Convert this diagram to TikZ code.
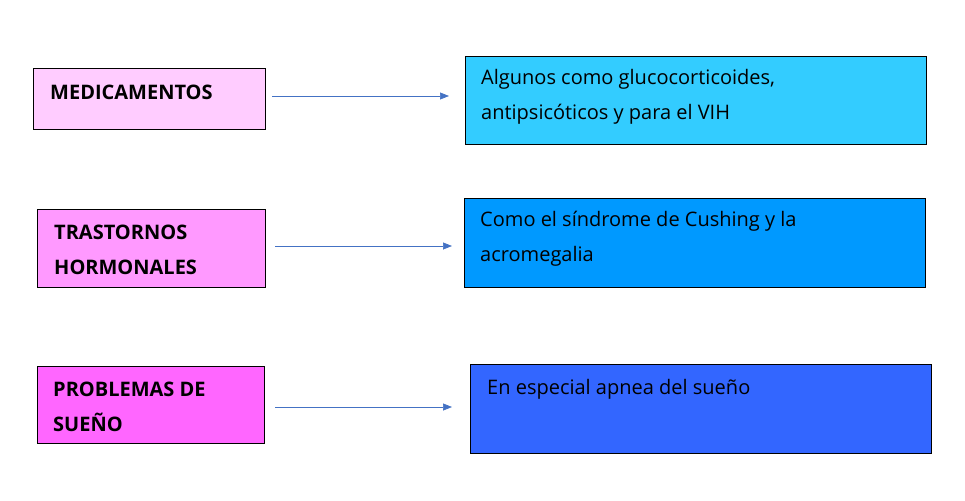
\documentclass[tikz,border=0pt]{standalone}
\usepackage{fontspec}
\setmainfont{Open Sans}
\usetikzlibrary{arrows.meta}
\definecolor{pk1}{HTML}{FFCCFF}
\definecolor{pk2}{HTML}{FF99FF}
\definecolor{pk3}{HTML}{FF66FF}
\definecolor{bl1}{HTML}{33CCFF}
\definecolor{bl2}{HTML}{0099FF}
\definecolor{bl3}{HTML}{3366FF}
\definecolor{arr}{HTML}{4472C4}
\tikzset{
  box/.style={draw=black, line width=0.6pt},
  lt/.style={anchor=west, font=\fontsize{20}{35}\selectfont\bfseries, align=left, inner sep=0pt},
  rt/.style={anchor=west, font=\fontsize{20}{35}\selectfont, align=left, inner sep=0pt},
  conn/.style={draw=arr, line width=0.7pt, -{Triangle[length=9pt,width=7pt]}}
}
\begin{document}
\begin{tikzpicture}[x=1pt,y=-1pt]
\useasboundingbox (0,0) rectangle (965,500);
\fill[white] (0,0) rectangle (965,500);
\draw[box, fill=pk1] (33,68) rectangle (265,129);
\draw[box, fill=pk2] (37,209) rectangle (265,287);
\draw[box, fill=pk3] (37,366) rectangle (264,443);
\draw[box, fill=bl1] (465,56) rectangle (926,144);
\draw[box, fill=bl2] (464,198) rectangle (925,287);
\draw[box, fill=bl3] (470,364) rectangle (931,453);
\node[lt] (l1) at (50,92) {MEDICAMENTOS};
\node[lt] (l2) at (54,250) {TRASTORNOS\\HORMONALES};
\node[lt] (l3) at (53,407) {PROBLEMAS DE\\SUEÑO};
\node[rt] (r1) at (481,97) {Algunos como glucocorticoides,\\antipsicóticos y para el VIH};
\node[rt] (r2) at (480,239) {Como el síndrome de Cushing y la\\acromegalia};
\node[rt] (r3) at (487,389) {En especial apnea del sueño};
\coordinate (a1s) at (272,96); \coordinate (a1e) at (449,96);
\coordinate (a2s) at (275,246); \coordinate (a2e) at (452,246);
\coordinate (a3s) at (275,407); \coordinate (a3e) at (452,407);
\draw[conn] (a1s) -- (a1e);
\draw[conn] (a2s) -- (a2e);
\draw[conn] (a3s) -- (a3e);
\end{tikzpicture}
\end{document}
